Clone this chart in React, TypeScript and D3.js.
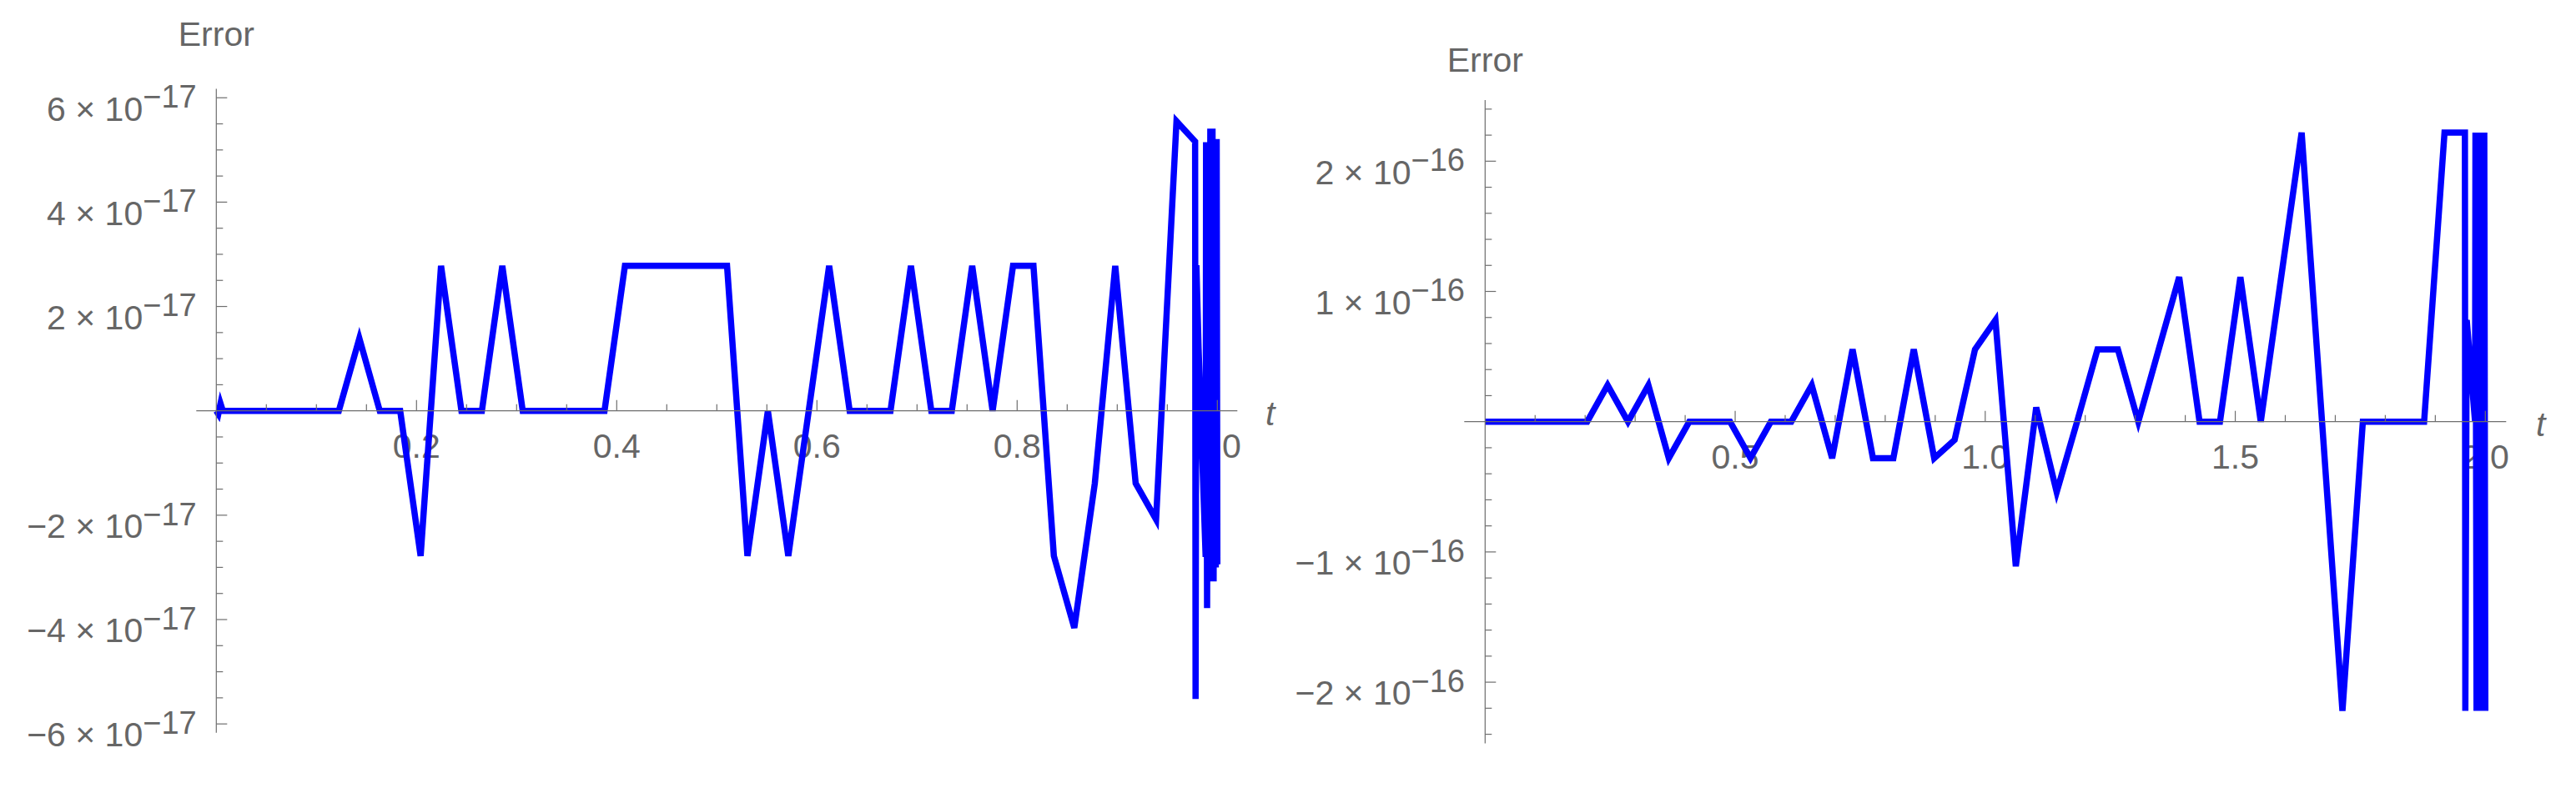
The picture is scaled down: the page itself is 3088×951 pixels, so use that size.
import React from "react";
import * as d3 from "d3";

// ---------- data ----------
// Left panel: t in [0,1], Error in units of 1e-17
const leftT = [
  0, 0.002, 0.0042, 0.0065, 0.0204, 0.0408, 0.0612, 0.0816, 0.102, 0.1224,
  0.1429, 0.1633, 0.1837, 0.2041, 0.2245, 0.2449, 0.2653, 0.2857, 0.3061, 0.3265,
  0.3469, 0.3673, 0.3878, 0.4082, 0.4286, 0.449, 0.4694, 0.4898, 0.5102, 0.5306,
  0.551, 0.5714, 0.5918, 0.6122, 0.6327, 0.6531, 0.6735, 0.6939, 0.7143, 0.7347,
  0.7551, 0.7755, 0.7959, 0.8163, 0.8367, 0.8571, 0.8776, 0.898, 0.9184, 0.9388,
  0.9592, 0.9778, 0.97825, 0.97908, 0.98125, 0.98833, 0.98875, 0.98975, 0.99083, 0.99192,
  0.993, 0.99408, 0.99517, 0.99625, 0.99733, 0.99842, 0.99933, 1.0,
];
const leftErr = [
  0, -0.06, 0.14, 0, 0, 0, 0, 0, 0, 0,
  1.39, 0, 0, -2.78, 2.78, 0, 0, 2.78, 0, 0,
  0, 0, 0, 2.78, 2.78, 2.78, 2.78, 2.78, 2.78, -2.78,
  0, -2.78, 0, 2.78, 0, 0, 0, 2.78, 0, 0,
  2.78, 0, 2.78, 2.78, -2.78, -4.16, -1.39, 2.78, -1.39, -2.08,
  5.55, 5.16, -5.52, 2.79, 1.2, -2.8, 5.15, -3.78, 5.15, -3.27,
  5.41, -3.27, 5.41, -3.27, 5.21, -3.0, 5.21, -2.94,
];

// Right panel: t in [0,2], Error in units of 1e-16
const rightT = [
  0, 0.0408, 0.0816, 0.1224, 0.1633, 0.2041, 0.2449, 0.2857, 0.3265, 0.3673,
  0.4082, 0.449, 0.4898, 0.5306, 0.5714, 0.6122, 0.6531, 0.6939, 0.7347, 0.7755,
  0.8163, 0.8571, 0.898, 0.9388, 0.9796, 1.0204, 1.0612, 1.102, 1.1429, 1.1837,
  1.2245, 1.2653, 1.3061, 1.3469, 1.3878, 1.4286, 1.4694, 1.5102, 1.551, 1.5918,
  1.6327, 1.6735, 1.7143, 1.7551, 1.7959, 1.8367, 1.8776, 1.9184, 1.9592, 1.96,
  1.9628, 1.9795, 1.9803, 1.9825, 1.9847, 1.9869, 1.9891, 1.9913, 1.9935, 1.9957,
  1.9979, 2.0,
];
const rightErr = [
  0, 0, 0, 0, 0, 0, 0.28, 0, 0.28, -0.28,
  0, 0, 0, -0.28, 0, 0, 0.28, -0.28, 0.555, -0.28,
  -0.28, 0.555, -0.28, -0.14, 0.555, 0.78, -1.11, 0.11, -0.54, 0,
  0.555, 0.555, 0, 0.555, 1.11, 0, 0, 1.11, 0, 1.11,
  2.22, 0, -2.22, 0, 0, 0, 0, 2.22, 2.22, -2.22,
  0.78, 0, 2.22, -2.22, 2.22, -2.22, 2.22, -2.22, 2.22, -2.22,
  2.22, -2.22,
];

// Tick labels
const leftXTicks = [0.2, 0.4, 0.6, 0.8, 1.0];
const leftYMantissas = [6, 4, 2, -2, -4, -6];
const rightXTicks = [0.5, 1.0, 1.5, 2.0];
const rightYMantissas = [2, 1, -1, -2];

const FONT = "'Liberation Sans', Arial, Helvetica, sans-serif";
const TEXT = "#666666";
const AXIS = "#6e6e6e";

type PanelCfg = {
  t: number[];
  err: number[];
  unit: number;
  exponent: string;
  xDomain: [number, number];
  xRange: [number, number];
  yDomain: [number, number];
  yRange: [number, number];
  xMajor: number[];
  xMinorStep: number;
  xMax: number;
  yMajor: number[];
  yMinorStep: number;
  yMinorMax: number;
  errorBaseline: number;
  labelRight: number;
  tLabelX: number;
};

const fmt = d3.format(".1f");
const near = (a: number, b: number) => Math.abs(a - b) < 1e-9;

function Panel({ c }: { c: PanelCfg }) {
  const x = d3.scaleLinear().domain(c.xDomain).range(c.xRange);
  const y = d3.scaleLinear().domain(c.yDomain).range(c.yRange);
  const x0 = x(0);
  const y0 = y(0);
  const pts = c.t.map((t, i) => [t, c.err[i] * c.unit] as [number, number]);
  const line = d3
    .line<[number, number]>()
    .x((d) => x(d[0]))
    .y((d) => y(d[1]));

  const xMinor = d3
    .range(1, Math.round(c.xMax / c.xMinorStep) + 1)
    .map((k) => k * c.xMinorStep)
    .filter((v) => !c.xMajor.some((m) => near(m, v)));
  const nY = Math.round(c.yMinorMax / c.yMinorStep);
  const yMinor = d3
    .range(-nY, nY + 1)
    .filter((k) => k !== 0)
    .map((k) => k * c.yMinorStep)
    .filter((v) => !c.yMajor.some((m) => near(m, v)));

  const minusSign = (m: number) => (m < 0 ? "\u2212" + Math.abs(m) : String(m));

  return (
    <g>
      {/* tick labels (under the curve) */}
      {c.xMajor.map((v) => (
        <text
          key={"xl" + v}
          x={x(v)}
          y={y0 + 56.6}
          textAnchor="middle"
          fontFamily={FONT}
          fontSize={41}
          fill={TEXT}
        >
          {fmt(v)}
        </text>
      ))}
      {c.yMajor.map((m) => (
        <text
          key={"yl" + m}
          x={c.labelRight}
          y={y(m * c.unit) + 27.3}
          textAnchor="end"
          fontFamily={FONT}
          fontSize={41}
          fill={TEXT}
        >
          <tspan>{minusSign(m) + " \u00d7 10"}</tspan>
          <tspan dy={-15.5} fontSize={38}>
            {c.exponent}
          </tspan>
        </text>
      ))}
      <text
        x={x0}
        y={c.errorBaseline}
        textAnchor="middle"
        fontFamily={FONT}
        fontSize={41}
        fill={TEXT}
      >
        Error
      </text>
      <text
        x={c.tLabelX}
        y={y0 + 16.8}
        fontFamily={FONT}
        fontStyle="italic"
        fontSize={41}
        fill={TEXT}
      >
        t
      </text>

      {/* curve */}
      <path d={line(pts) || ""} fill="none" stroke="#0000ff" strokeWidth={7.5} />

      {/* axes */}
      <line x1={c.xRange[0]} x2={c.xRange[1]} y1={y0} y2={y0} stroke={AXIS} strokeWidth={1.2} />
      <line x1={x0} x2={x0} y1={c.yRange[0]} y2={c.yRange[1]} stroke={AXIS} strokeWidth={1.2} />
      {c.xMajor.map((v) => (
        <line key={"xM" + v} x1={x(v)} x2={x(v)} y1={y0} y2={y0 - 13} stroke={AXIS} strokeWidth={1.2} />
      ))}
      {xMinor.map((v) => (
        <line key={"xm" + v} x1={x(v)} x2={x(v)} y1={y0} y2={y0 - 8} stroke={AXIS} strokeWidth={1.2} />
      ))}
      {c.yMajor.map((m) => (
        <line
          key={"yM" + m}
          x1={x0}
          x2={x0 + 13}
          y1={y(m * c.unit)}
          y2={y(m * c.unit)}
          stroke={AXIS}
          strokeWidth={1.2}
        />
      ))}
      {yMinor.map((m) => (
        <line
          key={"ym" + m}
          x1={x0}
          x2={x0 + 8}
          y1={y(m * c.unit)}
          y2={y(m * c.unit)}
          stroke={AXIS}
          strokeWidth={1.2}
        />
      ))}
    </g>
  );
}

const leftCfg: PanelCfg = {
  t: leftT,
  err: leftErr,
  unit: 1e-17,
  exponent: "\u221217",
  xDomain: [-0.02, 1.02],
  xRange: [235.3, 1483.3],
  yDomain: [-6.17e-17, 6.17e-17],
  yRange: [878.8, 106.6],
  xMajor: leftXTicks,
  xMinorStep: 0.05,
  xMax: 1.0,
  yMajor: leftYMantissas,
  yMinorStep: 0.5,
  yMinorMax: 6,
  errorBaseline: 55,
  labelRight: 235.7,
  tLabelX: 1517,
};

const rightCfg: PanelCfg = {
  t: rightT,
  err: rightErr,
  unit: 1e-16,
  exponent: "\u221216",
  xDomain: [-0.0417, 2.0417],
  xRange: [1755.3, 3004.3],
  yDomain: [-2.47e-16, 2.47e-16],
  yRange: [891.5, 119.9],
  xMajor: rightXTicks,
  xMinorStep: 0.1,
  xMax: 2.0,
  yMajor: rightYMantissas,
  yMinorStep: 0.2,
  yMinorMax: 2.4,
  errorBaseline: 86,
  labelRight: 1756,
  tLabelX: 3040,
};

export default function App() {
  return (
    <svg
      width={3088}
      height={951}
      viewBox="0 0 3088 951"
      style={{ position: "absolute", left: 0, top: 0, background: "#ffffff" }}
    >
      <rect x={0} y={0} width={3088} height={951} fill="#ffffff" />
      <Panel c={leftCfg} />
      <Panel c={rightCfg} />
    </svg>
  );
}
